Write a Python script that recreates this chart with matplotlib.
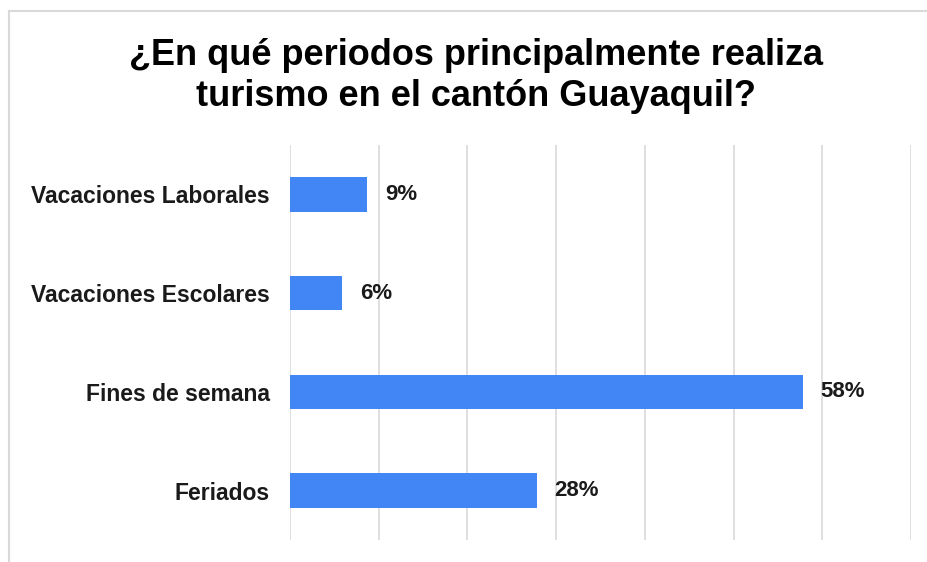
import matplotlib
matplotlib.use("Agg")
import matplotlib.pyplot as plt
from matplotlib.lines import Line2D

categories = ["Vacaciones Laborales", "Vacaciones Escolares", "Fines de semana", "Feriados"]
values = [8.7, 5.9, 57.8, 27.8]
labels = ["9%", "6%", "58%", "28%"]
title = "¿En qué periodos principalmente realiza\nturismo en el cantón Guayaquil?"

plt.rcParams['font.family'] = ['Liberation Sans', 'DejaVu Sans']

W, H = 928, 562
fig = plt.figure(figsize=(W / 100, H / 100), dpi=100)
fig.patch.set_facecolor("white")

# outer border (top and left visible)
fig.add_artist(Line2D([9 / W, 1], [1 - 11 / H, 1 - 11 / H], color="#d9d9d9", lw=1.5))
fig.add_artist(Line2D([9 / W, 9 / W], [0, 1 - 11 / H], color="#d9d9d9", lw=1.5))

left, right, top, bottom = 290 / W, 911 / W, 1 - 145 / H, 1 - 540 / H
ax = fig.add_axes([left, bottom, right - left, top - bottom])

y = list(range(len(categories)))
ax.barh(y, values, height=0.35, color="#4285F4", zorder=3)
ax.set_ylim(len(categories) - 0.5, -0.5)
ax.set_xlim(0, 70)
ax.set_xticks(range(0, 71, 10))
ax.xaxis.grid(True, color="#d9d9d9", lw=1.2, zorder=0)
ax.tick_params(axis="x", length=0, labelbottom=False)
ax.tick_params(axis="y", length=0, pad=14.5)
ax.set_yticks(y)
ax.set_yticklabels(categories, fontsize=16.5, fontweight="bold", color="#1a1a1a")
for s in ax.spines.values():
    s.set_visible(False)

for yi, v, lab in zip(y, values, labels):
    ax.annotate(lab, (v, yi), xytext=(13, 0), textcoords="offset points",
                va="center", ha="left", fontsize=16, fontweight="bold", color="#1a1a1a")

fig.text(476 / W, 1 - 76 / H, title, ha="center", va="center", fontsize=26,
         fontweight="bold", color="#000000", linespacing=1.2)

fig.savefig("out.png", dpi=100, facecolor="white")
